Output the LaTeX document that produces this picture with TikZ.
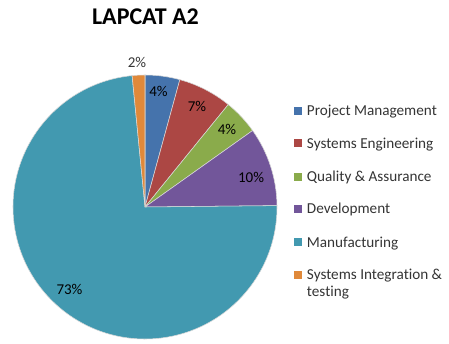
\documentclass[tikz,border=0pt]{standalone}
\usepackage{fontspec}
\setmainfont{Carlito}[Ligatures={NoCommon}]
\definecolor{pmblue}{HTML}{4573AC}
\definecolor{sered}{HTML}{AC4744}
\definecolor{qagreen}{HTML}{8AAB4B}
\definecolor{devpurple}{HTML}{72569A}
\definecolor{mancyan}{HTML}{4299B0}
\definecolor{siorange}{HTML}{E0893A}
\definecolor{txtgrey}{HTML}{353535}
\begin{document}
\begin{tikzpicture}[x=0.75pt,y=0.75pt,
  slice/.style={draw=white!85!black,line width=0.4pt},
  pct/.style={font=\fontsize{11.25}{13}\selectfont,text=black,inner sep=0pt},
  legsq/.style={minimum size=6pt,inner sep=0pt,draw=none},
  legtxt/.style={font=\fontsize{11.4}{13}\selectfont,text=txtgrey,inner sep=0pt,anchor=base west}]
\useasboundingbox (0,0) rectangle (449,343);
\fill[white] (0,0) rectangle (449,343);
\coordinate (c) at (145,136);
\def\R{132}
% slices
\filldraw[slice,fill=pmblue]    (c) -- ++(74.7:\R) arc[start angle=74.7,end angle=90,radius=\R] -- cycle;
\filldraw[slice,fill=sered]     (c) -- ++(50.9:\R) arc[start angle=50.9,end angle=74.7,radius=\R] -- cycle;
\filldraw[slice,fill=qagreen]   (c) -- ++(35.4:\R) arc[start angle=35.4,end angle=50.9,radius=\R] -- cycle;
\filldraw[slice,fill=devpurple] (c) -- ++(0.6:\R) arc[start angle=0.6,end angle=35.4,radius=\R] -- cycle;
\filldraw[slice,fill=mancyan]   (c) -- ++(95.6:\R) arc[start angle=95.6,end angle=360.6,radius=\R] -- cycle;
\filldraw[slice,fill=siorange]  (c) -- ++(90:\R) arc[start angle=90,end angle=95.6,radius=\R] -- cycle;
% title
\node[font=\fontsize{18}{20}\selectfont\bfseries,inner sep=0pt] (title) at (145.5,326) {LAPCAT A2};
% percentage labels
\node[pct,text=txtgrey] (p2) at (137,280.5) {2\%};
\node[pct] (p4a) at (158.5,252) {4\%};
\node[pct] (p7) at (197,237) {7\%};
\node[pct] (p4b) at (227,214) {4\%};
\node[pct] (p10) at (251,166) {10\%};
\node[pct] (p73) at (69.5,54) {73\%};
% legend
\node[legsq,fill=pmblue]    (l1) at (298,232.3) {};
\node[legsq,fill=sered]     (l2) at (298,199.7) {};
\node[legsq,fill=qagreen]   (l3) at (298,166.3) {};
\node[legsq,fill=devpurple] (l4) at (298,134) {};
\node[legsq,fill=mancyan]   (l5) at (298,100.7) {};
\node[legsq,fill=siorange]  (l6) at (298,68) {};
\node[legtxt] (t1) at (306.7,227.6) {Project Management};
\node[legtxt] (t2) at (306.7,195) {Systems Engineering};
\node[legtxt] (t3) at (306.7,161.6) {Quality \& Assurance};
\node[legtxt] (t4) at (306.7,129.3) {Development};
\node[legtxt] (t5) at (306.7,96) {Manufacturing};
\node[legtxt] (t6) at (306.7,63.3) {Systems Integration \&};
\node[legtxt] (t6b) at (306.7,46.6) {testing};
\end{tikzpicture}
\end{document}
